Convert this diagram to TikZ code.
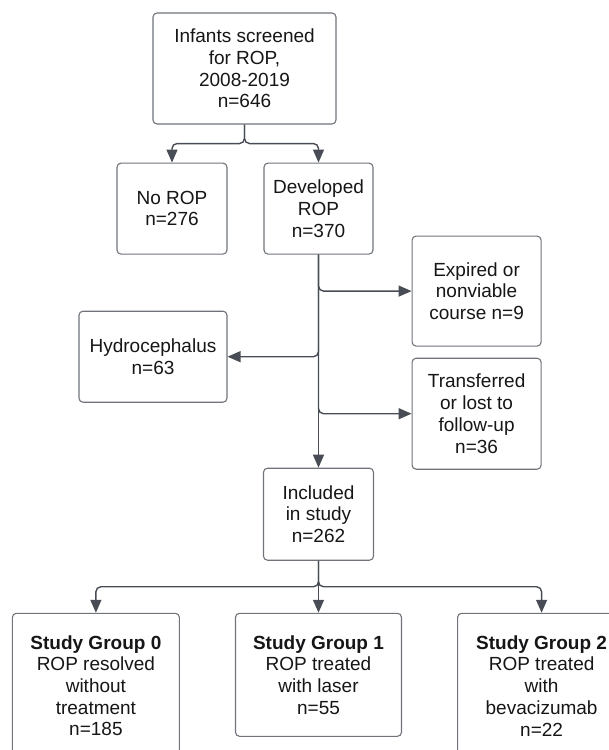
\documentclass[tikz,border=0pt]{standalone}
\usepackage{fontspec}
\setmainfont{Liberation Sans}
\usetikzlibrary{arrows.meta}
\usetikzlibrary{positioning}
\definecolor{boxgray}{RGB}{112,116,122}
\definecolor{linkgray}{RGB}{72,76,84}
\definecolor{inkgray}{RGB}{22,22,24}

\begin{document}
\begin{tikzpicture}
    [stage/.style={rectangle, rounded corners=4pt, draw=boxgray, line width=1.1pt, fill=white, text=inkgray, align=center, inner sep=0pt, font=\fontsize{19}{21.7}\selectfont},
     link/.style={draw=linkgray, line width=1.4pt, rounded corners=5pt, -{Triangle[length=13pt, width=11pt]}}]

    \useasboundingbox (-244.5pt, 68.5pt) rectangle (364.5pt, -681.5pt);
    \clip (-244.5pt, 68.5pt) rectangle (364.5pt, -681.5pt);

    \node [stage, minimum width=183pt, minimum height=111pt] (screen) at (0,0) {Infants screened\\for ROP,\\2008-2019\\n=646};
    \node [stage, minimum width=110pt, minimum height=91pt, below=38pt of screen.south, xshift=-72.5pt] (norop) {No ROP\\n=276};
    \node [stage, minimum width=109pt, minimum height=91pt, below=38pt of screen.south, xshift=74pt] (devrop) {Developed\\ROP\\n=370};
    \node [stage, minimum width=129pt, minimum height=110pt, right=38pt of devrop.north east, anchor=north west, yshift=-73pt] (expired) {Expired or\\nonviable\\course n=9};
    \node [stage, minimum width=129pt, minimum height=111pt, below=11pt of expired] (transf) {Transferred\\or lost to\\follow-up\\n=36};
    \node [stage, minimum width=148pt, minimum height=91pt, below=56pt of norop.south east, anchor=north east] (hydro) {Hydrocephalus\\n=63};
    \node [stage, minimum width=110pt, minimum height=92pt, below=213pt of devrop] (incl) {Included\\in study\\n=262};
    \node [stage, minimum width=166pt, minimum height=123pt, below=52pt of incl] (sg1) {\textbf{Study Group 1}\\ROP treated\\with laser\\n=55};
    \node [stage, minimum width=167pt, minimum height=145pt, left=55pt of sg1.north west, anchor=north east] (sg0) {\textbf{Study Group 0}\\ROP resolved\\without\\treatment\\n=185};
    \node [stage, minimum width=168pt, minimum height=145pt, right=55pt of sg1.north east, anchor=north west] (sg2) {\textbf{Study Group 2}\\ROP treated\\with\\bevacizumab\\n=22};

    % screening split
    \coordinate (fork1) at ([yshift=-19pt] screen.south);
    \draw [link] (screen.south) -- (fork1) -| (norop.north);
    \draw [link] (screen.south) -- (fork1) -| (devrop.north);

    % exclusions off the main line
    \draw [link] (devrop.south) -- (incl.north);
    \draw [link] (devrop.south) |- (expired.west);
    \draw [link] (devrop.south) |- (hydro.east);
    \draw [link] (devrop.south) |- (transf.west);

    % study groups
    \coordinate (fork2) at ([yshift=-26pt] incl.south);
    \draw [link] (incl.south) -- (fork2) -| (sg0.north);
    \draw [link] (incl.south) -- (sg1.north);
    \draw [link] (incl.south) -- (fork2) -| (sg2.north);
\end{tikzpicture}
\end{document}
